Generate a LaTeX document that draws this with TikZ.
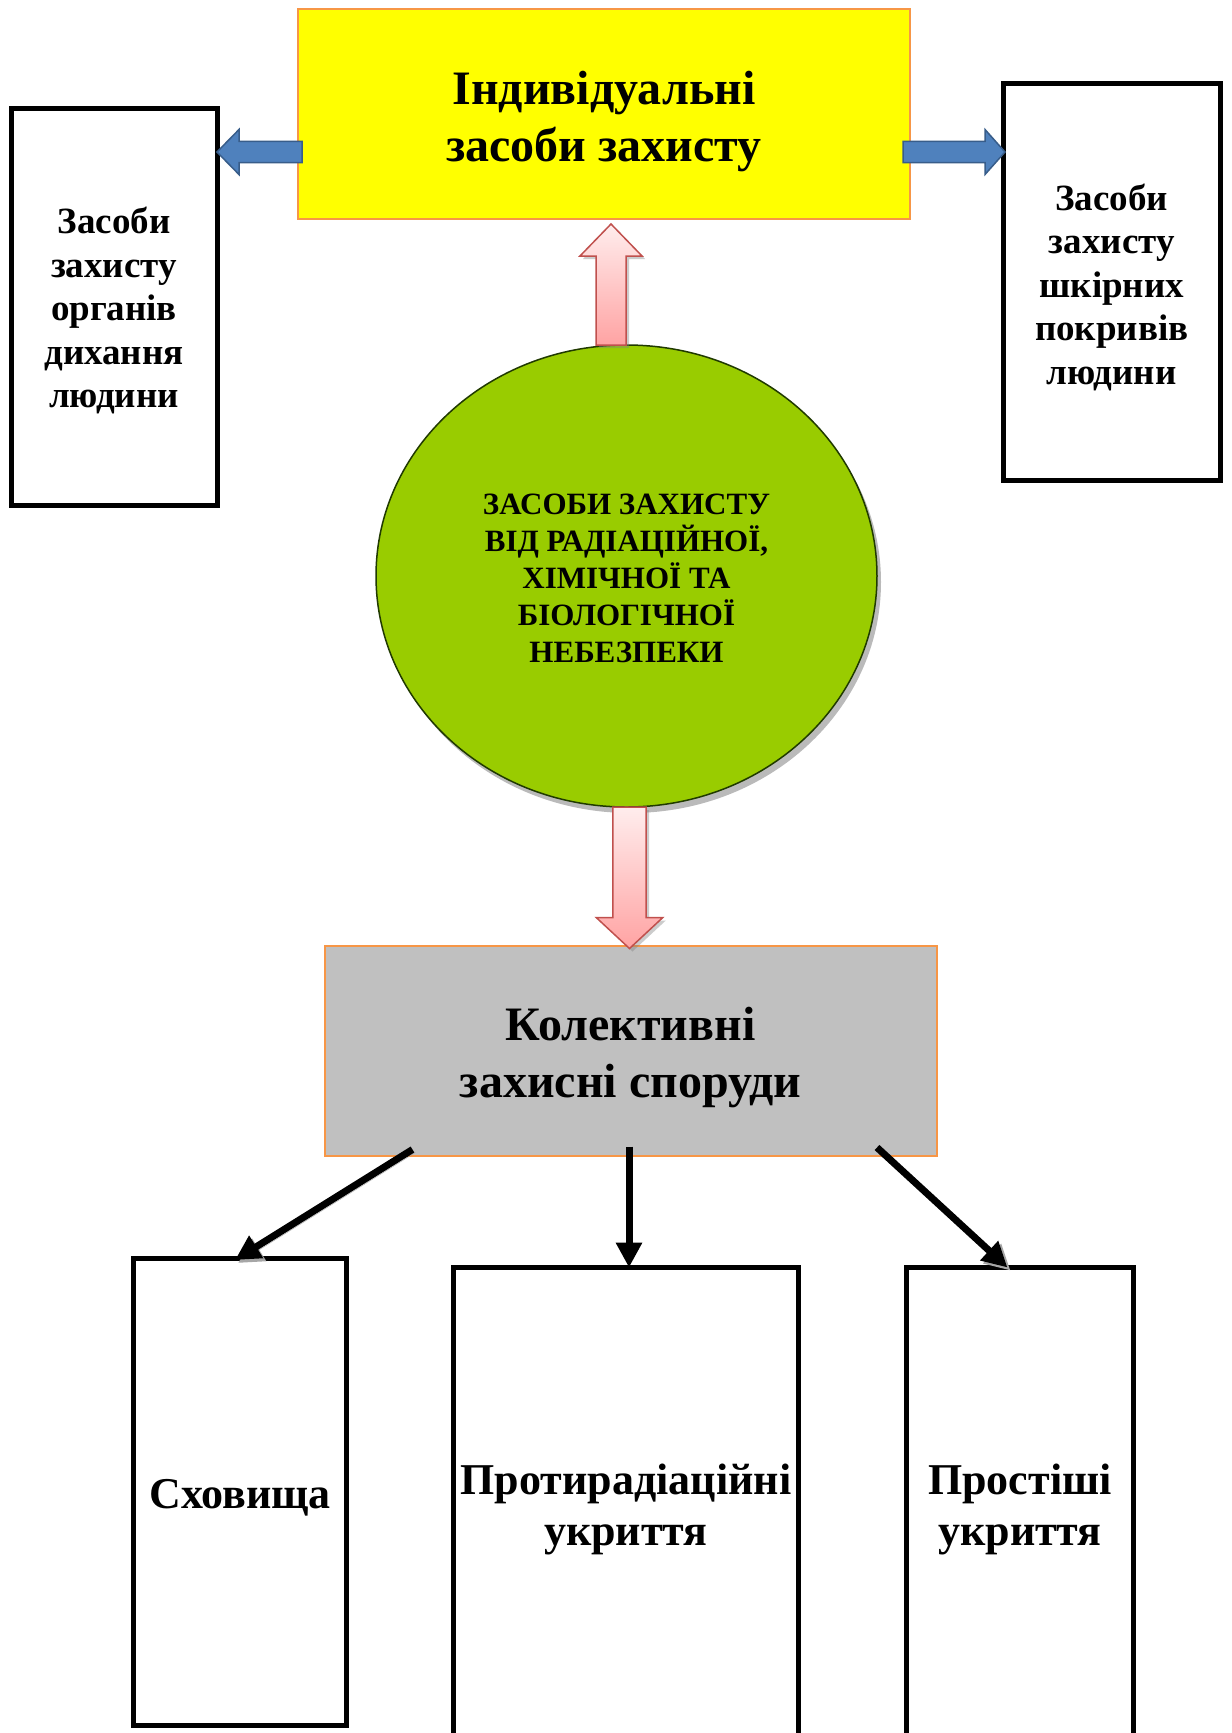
\documentclass[tikz,border=0pt]{standalone}
\usepackage{fontspec}
\setmainfont{Liberation Serif}
\usetikzlibrary{arrows.meta,positioning,shapes.geometric,shadows,calc}

\definecolor{boxorange}{HTML}{F79646}
\definecolor{hiyellow}{HTML}{FFFF00}
\definecolor{boxgray}{HTML}{C0C0C0}
\definecolor{coregreen}{HTML}{99CC00}
\definecolor{coreline}{HTML}{203A00}
\definecolor{arrowblue}{HTML}{4F81BD}
\definecolor{arrowblueline}{HTML}{385D8A}
\definecolor{pinklight}{HTML}{FFEDED}
\definecolor{pinkdark}{HTML}{FFA3A3}
\definecolor{pinkline}{HTML}{C0504D}

% strut on the first line, to set the text a little lower
\newcommand{\dropstrut}[1][1em]{\rule{0pt}{#1}}

\begin{document}
\begin{tikzpicture}[
  x=1pt, y=1pt,
  topbox/.style={rectangle, draw=boxorange, line width=2pt, align=center, inner sep=2pt, outer sep=0pt, minimum width=612pt, minimum height=210pt, font=\fontsize{48}{57}\selectfont\bfseries},
  sidebox/.style={rectangle, draw, line width=5pt, align=center, inner sep=2pt, outer sep=0pt, minimum height=397pt, font=\fontsize{37}{43.5}\selectfont\bfseries},
  leafbox/.style={rectangle, draw, line width=5pt, align=center, inner sep=2pt, outer sep=0pt, minimum height=472.5pt, font=\fontsize{44}{51.5}\selectfont\bfseries},
  corenode/.style={ellipse, draw=coreline, line width=1.5pt, fill=coregreen, align=center, inner sep=2pt, outer sep=0pt, minimum width=501pt, minimum height=462pt, font=\fontsize{31}{37}\selectfont\bfseries, drop shadow={shadow xshift=4pt, shadow yshift=-6pt, fill=black!45, opacity=0.6}},
  bluearrow/.style={fill=arrowblue, draw=arrowblueline, line width=1.5pt},
  pinkarrow/.style={top color=pinklight, bottom color=pinkdark, draw=pinkline, line width=1.5pt, drop shadow={shadow xshift=3pt, shadow yshift=-3pt, fill=black!50, opacity=0.4}},
  arrow/.style={-{Triangle[length=25pt, width=25pt]}, line width=7pt},
  castshadow/.style={preaction={draw=black!35, transform canvas={shift={(3pt,-3pt)}}}}
]
\fill[white] (0,0) rectangle (1232,-1733);
\useasboundingbox (0,0) rectangle (1232,-1733);
% Top row: personal protection and its two kinds
\node[topbox, fill=hiyellow] (ind) at (604,-114) {\dropstrut Індивідуальні\\засоби захисту};
\node[sidebox, minimum width=206pt] (resp) at (114,-306.5) {\dropstrut[0.95em]Засоби\\захисту\\органів\\дихання\\людини};
\node[sidebox, minimum width=217.5pt, minimum height=397.5pt] (skin) at (1111.75,-281.75) {\dropstrut Засоби\\захисту\\шкірних\\покривів\\людини};
% Centre: the ellipse and the collective shelters
\node[corenode] (core) at (626.5,-576) {\dropstrut[0.8em]ЗАСОБИ ЗАХИСТУ\\ВІД РАДІАЦІЙНОЇ,\\ХІМІЧНОЇ ТА\\БІОЛОГІЧНОЇ\\НЕБЕЗПЕКИ};
\node[topbox, fill=boxgray] (col) at (630.5,-1050.5) {\dropstrut Колективні\\захисні споруди};
% Bottom row: three kinds of shelters
\node[leafbox, minimum width=212.5pt, minimum height=467pt] (shelter) at (240,-1491.5) {\dropstrut[0.95em]Сховища};
\node[leafbox, minimum width=345pt] (antirad) at (626,-1503.75) {\dropstrut[0.95em]Протирадіаційні\\укриття};
\node[leafbox, minimum width=227pt] (simple) at (1020,-1503.75) {\dropstrut[0.95em]Простіші\\укриття};
% Block arrows
\draw[bluearrow] let \p1=([yshift=-38pt]ind.west), \p2=(resp.east) in
  (\x1+4,\y1+10.7) -- (\x2+22,\y1+10.7) -- (\x2+22,\y1+22.5) -- (\x2,\y1) -- (\x2+22,\y1-22.5) -- (\x2+22,\y1-10.7) -- (\x1+4,\y1-10.7) -- cycle;
\draw[bluearrow] let \p1=([yshift=-38pt]ind.east), \p2=(skin.west) in
  (\x1-7,\y1+10.7) -- (\x2-18,\y1+10.7) -- (\x2-18,\y1+22.5) -- (\x2+2,\y1) -- (\x2-18,\y1-22.5) -- (\x2-18,\y1-10.7) -- (\x1-7,\y1-10.7) -- cycle;
\draw[pinkarrow] let \p1=([xshift=-15.5pt]core.north), \p2=(ind.south) in
  (\x1-15,\y1) -- (\x1-15,\y2-37) -- (\x1-31,\y2-37) -- (\x1,\y2-5) -- (\x1+31,\y2-37) -- (\x1+15,\y2-37) -- (\x1+15,\y1) -- cycle;
\draw[pinkarrow] let \p1=([xshift=3pt]core.south), \p2=(col.north) in
  (\x1-16.6,\y1) -- (\x1-16.6,\y2+28) -- (\x1-33.3,\y2+28) -- (\x1,\y2-3) -- (\x1+33.3,\y2+28) -- (\x1+16.6,\y2+28) -- (\x1+16.6,\y1) -- cycle;
% Shelters
\draw[arrow, castshadow] ([xshift=-218pt,yshift=6pt]col.south) -- ([xshift=-5pt,yshift=-2pt]shelter.north);
\draw[arrow] ([xshift=-1.5pt,yshift=9pt]col.south) -- ([xshift=3pt]antirad.north);
\draw[arrow, castshadow] ([xshift=246.5pt,yshift=8pt]col.south) -- ([xshift=-12.5pt]simple.north);
\end{tikzpicture}
\end{document}
